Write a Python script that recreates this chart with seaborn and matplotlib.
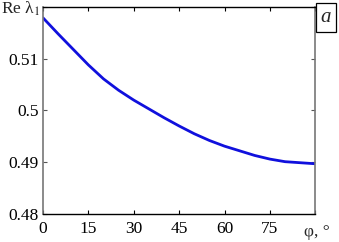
import numpy as np
import pandas as pd
import seaborn as sns
import matplotlib.pyplot as plt

# --- Dane ---
phi = [0, 5, 10, 15, 20, 25, 30, 35, 40, 45, 50, 55, 60, 65, 70, 75, 80, 85, 90]
re_lambda = [0.5179, 0.5148, 0.5118, 0.5088, 0.5061, 0.5039, 0.5020, 0.5003,
             0.4986, 0.4970, 0.4955, 0.4942, 0.4931, 0.4922, 0.4913, 0.4906,
             0.4901, 0.4899, 0.4897]
x_ticks = [0, 15, 30, 45, 60, 75, 90]
x_labels = ["0", "15", "30", "45", "60", "75", ""]
y_ticks = [0.48, 0.49, 0.50, 0.51, 0.52]
y_labels = ["0.48", "0.49", "0.5", "0.51", ""]

df = pd.DataFrame({"phi": phi, "re": re_lambda})

# --- Styl ---
sns.set_style("ticks")
plt.rcParams["font.family"] = ["Liberation Serif", "DejaVu Serif"]
plt.rcParams["mathtext.fontset"] = "stix"

fig = plt.figure(figsize=(3.39, 2.42), dpi=100)
ax = fig.add_axes([0.127, 0.116, 0.803, 0.855])

sns.lineplot(data=df, x="phi", y="re", color="#1010dd", linewidth=2, ax=ax)

ax.set_xlim(0, 90)
ax.set_ylim(0.48, 0.52)
ax.set_xticks(x_ticks)
ax.set_xticklabels(x_labels)
ax.set_yticks(y_ticks)
ax.set_yticklabels(y_labels)
ax.set_xlabel("")
ax.set_ylabel("")
ax.tick_params(direction="in", length=3, width=0.8, labelsize=12.5,
               top=True, right=True, colors="black")
ax.tick_params(axis="x", pad=5)
ax.tick_params(axis="y", pad=3, colors="#555555", labelcolor="black")

for side in ["left", "right"]:
    ax.spines[side].set_color("#777777")
    ax.spines[side].set_linewidth(1.2)
for side in ["top", "bottom"]:
    ax.spines[side].set_color("black")
    ax.spines[side].set_linewidth(1.0)
ax.spines["top"].set_visible(True)
ax.spines["right"].set_visible(True)

# --- Podpisy ---
fig.text(0.003, 0.965, "Re λ$_1$", fontsize=12.5, ha="left", va="center")
fig.text(0.935, 0.042, "φ, °", fontsize=12.5, ha="center", va="center")
fig.text(0.962, 0.928, "a", fontsize=15, style="italic", ha="center", va="center",
         bbox=dict(boxstyle="square,pad=0.22", fc="white", ec="black", lw=0.9))

plt.savefig("out.png", dpi=100)
plt.close()
